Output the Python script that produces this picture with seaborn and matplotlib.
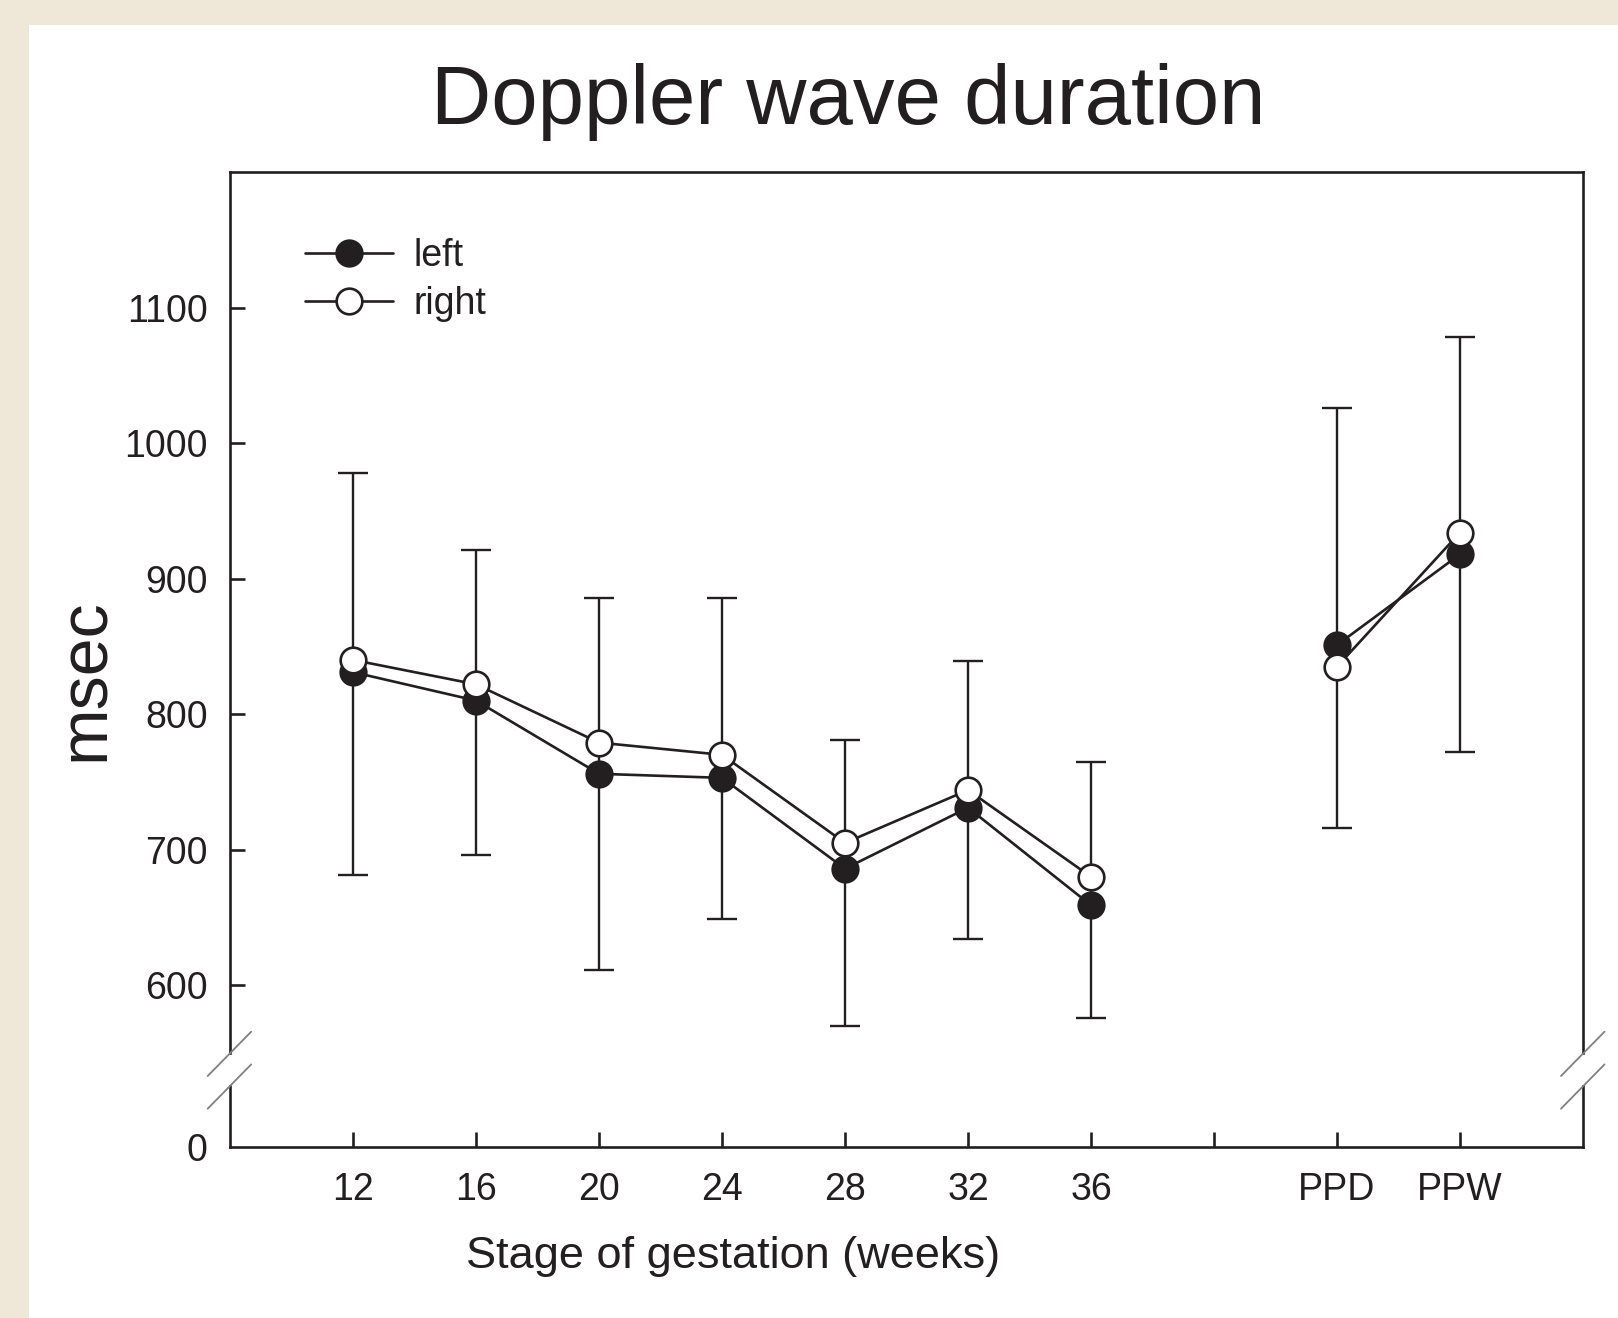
import numpy as np
import pandas as pd
import matplotlib
matplotlib.use("Agg")
import matplotlib.pyplot as plt
from matplotlib.lines import Line2D
from matplotlib.patches import Rectangle
import seaborn as sns

# Data (msec)
stages = ['12', '16', '20', '24', '28', '32', '36', 'PPD', 'PPW']
left_ms = [831, 810, 756, 753, 686, 731, 659, 851, 918]
right_ms = [840, 822, 779, 770, 705, 744, 680, 835, 934]
err_upper = [978, 921, 886, 886, 781, 839, 765, 1026, 1078]
err_lower = [681, 696, 611, 649, 570, 634, 576, 716, 772]
n_gestation = 7  # first 7 stages are weeks of gestation, rest are post-partum

ink = '#231f20'

sns.set_theme(style='white')
plt.rcParams['font.family'] = ['Liberation Sans', 'DejaVu Sans']
plt.rcParams['text.color'] = ink
plt.rcParams['axes.edgecolor'] = ink
plt.rcParams['xtick.color'] = ink
plt.rcParams['ytick.color'] = ink

# x positions: one empty slot between gestation and post-partum groups
pos = [i + 1 if i < n_gestation else i + 2 for i in range(len(stages))]
segment = ['gest' if i < n_gestation else 'post' for i in range(len(stages))]

df = pd.concat([
    pd.DataFrame({'pos': pos, 'msec': left_ms, 'side': 'left', 'segment': segment}),
    pd.DataFrame({'pos': pos, 'msec': right_ms, 'side': 'right', 'segment': segment}),
])

W, H = 1618, 1318
fig = plt.figure(figsize=(W / 100, H / 100), dpi=100)
fig.patch.set_facecolor('#efe8d9')
fig.add_artist(Rectangle((29 / W, 0), 1 - 29 / W, 1 - 25 / H, transform=fig.transFigure,
                         facecolor='white', edgecolor='none', zorder=-10))

ax_left, ax_w = 230 / W, (1583 - 230) / W
ax = fig.add_axes([ax_left, 1 - 1053 / H, ax_w, (1053 - 172) / H])
ax_b = fig.add_axes([ax_left, 1 - 1147 / H, ax_w, (1147 - 1086) / H])

for a in (ax, ax_b):
    a.set_facecolor('none')
    a.set_xlim(0, 11)
    for s in a.spines.values():
        s.set_linewidth(1.9)
        s.set_color(ink)

ax.set_ylim(550, 1200)
ax_b.set_ylim(0, 45)
ax.spines['bottom'].set_visible(False)
ax_b.spines['top'].set_visible(False)

# error bars (around left means)
left_arr = np.array(left_ms)
yerr = [left_arr - np.array(err_lower), np.array(err_upper) - left_arr]
ax.errorbar(pos, left_ms, yerr=yerr, fmt='none', ecolor=ink, elinewidth=1.7,
            capsize=11, capthick=1.7, zorder=1)

sns.lineplot(data=df, x='pos', y='msec', hue='side', units='segment', estimator=None,
             palette={'left': ink, 'right': ink}, linewidth=1.9, legend=False,
             sort=False, ax=ax, zorder=2)
sns.scatterplot(data=df[df.side == 'left'], x='pos', y='msec', color=ink, s=340,
                edgecolor=ink, linewidth=1.9, legend=False, ax=ax, zorder=3)
sns.scatterplot(data=df[df.side == 'right'], x='pos', y='msec', color='white', s=340,
                edgecolor=ink, linewidth=1.9, legend=False, ax=ax, zorder=4)

ax.set_xlabel('')
ax.set_ylabel('')
ax.set_xticks([])
ax.set_yticks([600, 700, 800, 900, 1000, 1100])
ax.tick_params(axis='y', direction='in', length=10.5, width=1.9, labelsize=27, pad=16,
               left=True, right=False)

ax_b.set_yticks([0])
ax_b.set_xticks(pos[:n_gestation] + [n_gestation + 1] + pos[n_gestation:])
ax_b.set_xticklabels(stages[:n_gestation] + [''] + stages[n_gestation:])
ax_b.tick_params(axis='x', direction='in', length=10.5, width=1.9, labelsize=27, pad=18,
                 bottom=True)
ax_b.tick_params(axis='y', direction='in', length=0, labelsize=27, pad=16, left=True)

handles = [
    Line2D([], [], color=ink, lw=1.9, marker='o', ms=18.5, mfc=ink, mec=ink, mew=1.9),
    Line2D([], [], color=ink, lw=1.9, marker='o', ms=18.5, mfc='white', mec=ink, mew=1.9),
]
ax.legend(handles, ['left', 'right'], loc='upper left', bbox_to_anchor=(0.0554, 0.925),
          frameon=False, borderpad=0, borderaxespad=0, handlelength=2.35,
          handletextpad=0.55, labelspacing=0.33, fontsize=27)

# axis break marks
def px(x, y):
    return x / W, 1 - y / H

for xs in (207.7, 1561):
    for y0 in (1076, 1108.7):
        (x1, y1), (x2, y2) = px(xs, y0), px(xs + 43.5, y0 - 44.3)
        fig.add_artist(Line2D([x1, x2], [y1, y2], transform=fig.transFigure,
                              color='#808080', lw=1.3))

fig.text(848 / W, 1 - 124 / H, 'Doppler wave duration', ha='center', va='baseline',
         fontsize=60)
fig.text(733 / W, 1 - 1268 / H, 'Stage of gestation (weeks)', ha='center', va='baseline',
         fontsize=32.5)
fig.text(86 / W, 1 - 680 / H, 'msec', rotation=90, ha='center', va='center', fontsize=49)

fig.savefig('out.png', dpi=100)
